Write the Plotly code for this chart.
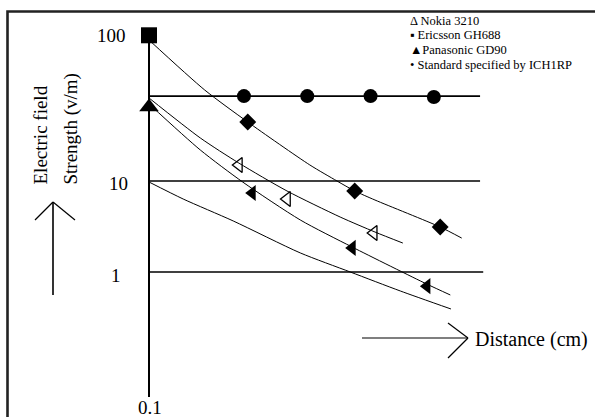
import numpy as np
import plotly.graph_objects as go

# ---------------- data (electric field in V/m vs distance in cm) ----------------
TICK_VALUES = [0.1, 1, 10, 100]
TICK_LABELS = ["0.1", "1", "10", "100"]

STD_DIST = [1.5, 2.5, 3.5, 4.5]
STD_FIELD = [40, 40, 40, 39.4]
STD_LINE_DIST = [0, 5.23]
STD_LINE_FIELD = [40, 40]

GRID_LEVELS = [10, 1]
GRID_END_DIST = [5.23, 5.28]

ERIC_PATH_DIST = [0, 0.88, 1.56, 2.54, 2.97, 3.25, 3.57, 4.60, 4.94]
ERIC_PATH_FIELD = [100, 44.2, 26.2, 13.0, 10.0, 7.77, 6.18, 3.12, 2.36]
ERIC_MARK_DIST = [1.56, 3.25, 4.60]
ERIC_MARK_FIELD = [26.2, 7.77, 3.12]
ERIC_START_DIST = [0]
ERIC_START_FIELD = [108]

NOKIA_PATH_DIST = [0, 0.81, 1.42, 2.18, 3.02, 3.57, 4.01]
NOKIA_PATH_FIELD = [38.8, 20.2, 13.4, 7.77, 4.02, 2.75, 2.08]
NOKIA_MARK_DIST = [1.42, 2.18, 3.55]
NOKIA_MARK_FIELD = [13.0, 6.34, 2.68]

PANA_PATH_DIST = [0, 0.81, 1.48, 2.39, 3.21, 4.39, 4.76]
PANA_PATH_FIELD = [35.2, 16.6, 9.75, 3.73, 1.88, 0.80, 0.655]
PANA_MARK_DIST = [1.63, 3.21, 4.39]
PANA_MARK_FIELD = [7.38, 1.84, 0.77]
PANA_START_DIST = [0]
PANA_START_FIELD = [33.5]

LOW_PATH_DIST = [0, 0.54, 1.33, 2.39, 3.18, 3.97, 4.77]
LOW_PATH_FIELD = [9.75, 6.34, 3.64, 1.62, 1.0, 0.705, 0.506]

LEGEND_TEXT = ["\u0394 Nokia 3210", "\u25aa Ericsson GH688", "\u25b2Panasonic GD90",
               "\u2022 Standard specified by ICH1RP"]

# ---------------- hand-drawn (non-uniform) logarithmic y scale ----------------
W, H = 595, 417
TICK_HEIGHTS = [0, 125, 216, 357]   # drawn height of each decade tick above the 0.1 tick
LOG_T = np.log10(TICK_VALUES)


def to_axis(v):
    lv = np.log10(np.asarray(v, dtype=float))
    out = np.interp(lv, LOG_T, TICK_HEIGHTS)
    hi = lv > LOG_T[-1]
    lo = lv < LOG_T[0]
    s_hi = (TICK_HEIGHTS[-1] - TICK_HEIGHTS[-2]) / (LOG_T[-1] - LOG_T[-2])
    s_lo = (TICK_HEIGHTS[1] - TICK_HEIGHTS[0]) / (LOG_T[1] - LOG_T[0])
    out = np.where(hi, TICK_HEIGHTS[-1] + (lv - LOG_T[-1]) * s_hi, out)
    out = np.where(lo, TICK_HEIGHTS[0] + (lv - LOG_T[0]) * s_lo, out)
    return out


X0_PX, X_UNIT_PX = 149, 63.3
Y_BOTTOM_PX = 397
X_RANGE = [-X0_PX / X_UNIT_PX, (W - X0_PX) / X_UNIT_PX]
Y_RANGE = [-(H - Y_BOTTOM_PX), Y_BOTTOM_PX]


def px(x, y):
    return x / W, 1 - y / H


FONT = "Liberation Serif, Times New Roman, serif"
BLACK = "#000000"

fig = go.Figure()


def line(xs, ys, width=1.0):
    fig.add_trace(go.Scatter(x=xs, y=to_axis(ys), mode="lines",
                             line=dict(color=BLACK, width=width, shape="spline", smoothing=0.7),
                             hoverinfo="skip"))


def marks(xs, ys, symbol, size, angle=0, lw=0):
    fig.add_trace(go.Scatter(x=xs, y=to_axis(ys), mode="markers",
                             marker=dict(symbol=symbol, size=size, color=BLACK, angle=angle,
                                         line=dict(color=BLACK, width=lw)),
                             hoverinfo="skip"))


# horizontal reference lines
for lev, xe in zip(GRID_LEVELS, GRID_END_DIST):
    fig.add_trace(go.Scatter(x=[0, xe], y=to_axis([lev, lev]), mode="lines",
                             line=dict(color=BLACK, width=1.6), hoverinfo="skip"))
fig.add_trace(go.Scatter(x=STD_LINE_DIST, y=to_axis(STD_LINE_FIELD), mode="lines",
                         line=dict(color=BLACK, width=1.6), hoverinfo="skip"))

# curves
line(ERIC_PATH_DIST, ERIC_PATH_FIELD)
line(NOKIA_PATH_DIST, NOKIA_PATH_FIELD)
line(PANA_PATH_DIST, PANA_PATH_FIELD)
line(LOW_PATH_DIST, LOW_PATH_FIELD)

# y axis line
fig.add_shape(type="line", xref="x", yref="y", x0=0, x1=0,
              y0=float(to_axis(TICK_VALUES[0])), y1=float(to_axis(TICK_VALUES[-1])),
              line=dict(color=BLACK, width=2))

# markers
marks(STD_DIST, STD_FIELD, "circle", 14)
marks(ERIC_MARK_DIST, ERIC_MARK_FIELD, "diamond", 13)
marks(ERIC_START_DIST, ERIC_START_FIELD, "square", 16)
marks(PANA_MARK_DIST, PANA_MARK_FIELD, "triangle-left", 14)
marks(PANA_START_DIST, PANA_START_FIELD, "triangle-up", 17)
fig.add_trace(go.Scatter(x=NOKIA_MARK_DIST, y=to_axis(NOKIA_MARK_FIELD), mode="markers",
                         marker=dict(symbol="triangle-left-open", size=13,
                                     color=BLACK, line=dict(color=BLACK, width=1.3)),
                         hoverinfo="skip"))

# tick labels
TICK_LABEL_X = [150, 123, 130, 128]
TICK_LABEL_ANCHOR = ["center", "right", "right", "right"]
TICK_LABEL_SHIFT = [-10, -3, -2, 5]
for v, lab, xl, anc, sh in zip(TICK_VALUES, TICK_LABELS, TICK_LABEL_X, TICK_LABEL_ANCHOR, TICK_LABEL_SHIFT):
    fig.add_annotation(x=xl / W, xref="paper", y=float(to_axis(v)), yref="y", yshift=sh,
                       text=lab, showarrow=False, xanchor=anc, yanchor="middle",
                       font=dict(family=FONT, size=19, color=BLACK))

# y axis title (two rotated lines)
for txt, xc in [("Electric field", 40), ("Strength (v/m)", 70)]:
    x_, y_ = px(xc, 187)
    fig.add_annotation(x=x_, y=y_, xref="paper", yref="paper", text=txt, textangle=-90,
                       showarrow=False, xanchor="center", yanchor="bottom",
                       font=dict(family=FONT, size=19, color=BLACK))

# x title
x_, y_ = px(473, 339)
fig.add_annotation(x=x_, y=y_, xref="paper", yref="paper", text="Distance (cm)",
                   showarrow=False, xanchor="left", yanchor="middle",
                   font=dict(family=FONT, size=20, color=BLACK))

# legend text
for i, (txt, yc) in enumerate(zip(LEGEND_TEXT, [20.5, 35.3, 50.1, 64.9])):
    x_, y_ = px(409, yc)
    fig.add_annotation(x=x_, y=y_, xref="paper", yref="paper", text=txt,
                       borderpad=0, showarrow=False, xanchor="left", yanchor="middle",
                       font=dict(family=FONT, size=12.5, color=BLACK))

# decorations: arrows and frame
def seg(a, b, w=1.2):
    xa, ya = px(*a)
    xb, yb = px(*b)
    fig.add_shape(type="line", xref="paper", yref="paper", x0=xa, y0=ya, x1=xb, y1=yb,
                  line=dict(color=BLACK, width=w))


seg((53, 202), (53, 295), 1.6)
seg((35, 220), (53, 202))
seg((75, 220), (53, 202))
seg((362, 338), (468, 338))
seg((448, 323), (468, 338))
seg((448, 358), (468, 338))

fx0, fy0 = px(7.5, 11.5)
fig.add_shape(type="rect", xref="paper", yref="paper", x0=fx0, y0=-0.02, x1=1.02, y1=fy0,
              line=dict(color="#222222", width=2.6))

fig.update_layout(
    width=W, height=H, margin=dict(l=0, r=0, t=0, b=0),
    paper_bgcolor="white", plot_bgcolor="white", showlegend=False,
    xaxis=dict(range=X_RANGE, visible=False, fixedrange=True),
    yaxis=dict(range=Y_RANGE, visible=False, fixedrange=True),
)

fig.write_html("out.html", config={"displayModeBar": False},
               post_script="document.body.style.margin='0px';document.body.style.overflow='hidden';")
